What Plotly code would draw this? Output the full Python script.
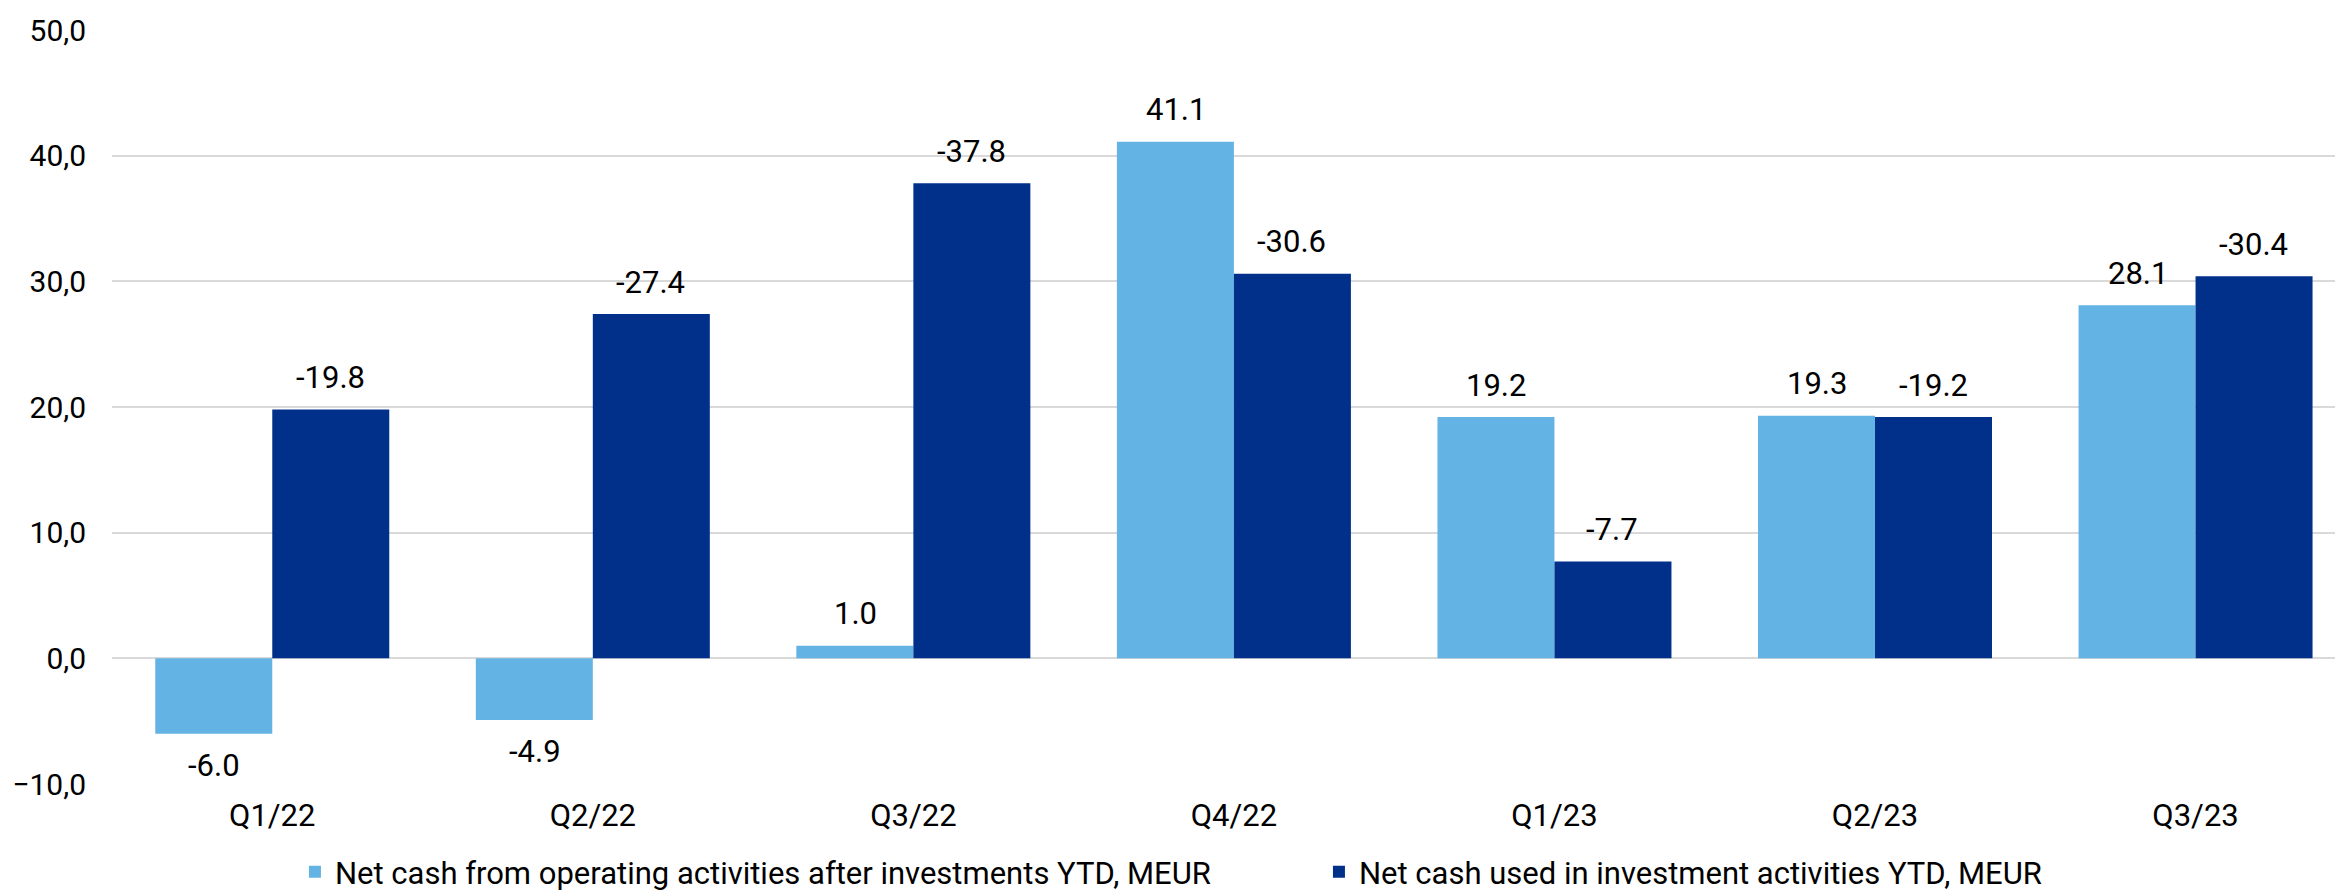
import plotly.graph_objects as go

LIGHT = "#63B4E4"
DARK = "#00308A"
GRID = "#d9d9d9"
FONT = "Roboto"
FS = 31

quarters = ["Q1/22", "Q2/22", "Q3/22", "Q4/22", "Q1/23", "Q2/23", "Q3/23"]
operating = [-6.0, -4.9, 1.0, 41.1, 19.2, 19.3, 28.1]
investment = [-19.8, -27.4, -37.8, -30.6, -7.7, -19.2, -30.4]

# investment cash is shown as bar height (absolute), labelled with its sign
investment_height = [-v for v in investment]

fig = go.Figure()
fig.add_trace(go.Bar(
    x=quarters, y=operating,
    name="Net cash from operating activities after investments YTD, MEUR",
    marker=dict(color=LIGHT, line=dict(width=0)),
))
fig.add_trace(go.Bar(
    x=quarters, y=investment_height,
    name="Net cash used in investment activities YTD, MEUR",
    marker=dict(color=DARK, line=dict(width=0)),
))

# value labels, offset half a bar to each side of the category centre
half_bar = 58
for series, heights, dx in [(operating, operating, -half_bar),
                            (investment, investment_height, half_bar)]:
    for q, lab, h in zip(quarters, series, heights):
        fig.add_annotation(
            x=q, y=h, text=f"{lab:.1f}", showarrow=False,
            xshift=dx, yshift=32 if h >= 0 else -32,
            yanchor="middle", font=dict(size=FS, color="black"),
        )

# page body has an 8px margin, so the figure is 16px smaller than the window
fig.update_layout(
    width=2335, height=884,
    paper_bgcolor="white", plot_bgcolor="white",
    font=dict(family=FONT, size=FS, color="black"),
    barmode="group", bargap=0.27, bargroupgap=0,
    margin=dict(l=104, r=0, t=22, b=108, autoexpand=False),
    legend=dict(orientation="h", x=0.082, xanchor="left", y=-0.117,
                yanchor="middle", font=dict(size=FS), entrywidth=979),
)
fig.update_xaxes(range=[-0.5, 6.46], showline=False, ticks="",
                 ticklabelstandoff=10)
fig.update_yaxes(range=[-10, 50], dtick=10, tickformat=".1f",
                 tickfont=dict(size=30),
                 showgrid=True, gridcolor=GRID, gridwidth=1.5,
                 zeroline=True, zerolinecolor=GRID, zerolinewidth=1.5,
                 ticklabelstandoff=25)
fig.update_layout(separators=",.")

fig.write_html("out.html")
